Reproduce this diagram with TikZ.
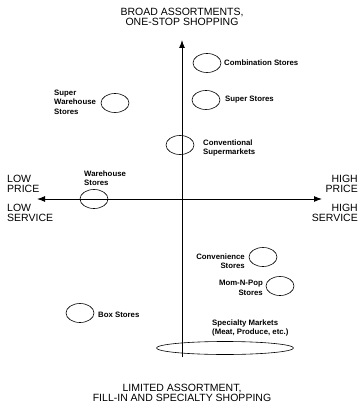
\documentclass[tikz,border=0pt]{standalone}
\usepackage{fontspec}
\setmainfont{Liberation Sans}
\usetikzlibrary{shapes.geometric, arrows.meta}

\begin{document}
\begin{tikzpicture}[x=1pt, y=-1pt, >={Latex[length=8pt,width=6pt]},
  store/.style={draw, ellipse, minimum width=28pt, minimum height=19pt, inner sep=0pt, line width=0.6pt},
  lbl/.style={font=\bfseries\fontsize{7.8}{9.5}\selectfont, inner sep=0pt},
  axlbl/.style={font=\fontsize{10.5}{10.5}\selectfont, inner sep=0pt}]
\useasboundingbox (0,0) rectangle (360,406);
% axes
\coordinate (top) at (182,40);
\coordinate (bot) at (182,357);
\coordinate (left) at (37,199);
\coordinate (right) at (322,199);
\draw[->, line width=1pt] (bot) -- (top);
\draw[<->, line width=1pt] (left) -- (right);
% axis texts
\node[axlbl, align=center] (broad) at (182,17) {BROAD ASSORTMENTS,\\ONE-STOP SHOPPING};
\node[axlbl, align=center] (limited) at (182,393) {LIMITED ASSORTMENT,\\FILL-IN AND SPECIALTY SHOPPING};
\node[axlbl, align=left, anchor=west] (lowprice) at (7,184) {LOW\\PRICE};
\node[axlbl, align=left, anchor=west] (lowserv) at (7,213) {LOW\\SERVICE};
\node[axlbl, align=right, anchor=east] (highprice) at (358,184) {HIGH\\PRICE};
\node[axlbl, align=right, anchor=east] (highserv) at (358,213) {HIGH\\SERVICE};
% stores
\node[store] (comb) at (207,63) {};
\node[lbl, anchor=west] (combtxt) at (224,63) {Combination Stores};
\node[store] (super) at (206,100) {};
\node[lbl, anchor=west] (supertxt) at (225,100) {Super Stores};
\node[store] (superwh) at (115,103) {};
\node[lbl, align=left, anchor=west] (superwhtxt) at (54,102) {Super\\Warehouse\\Stores};
\node[store] (conv) at (180,145) {};
\node[lbl, align=left, anchor=west] (convtxt) at (203,148) {Conventional\\Supermarkets};
\node[store] (wh) at (94,199) {};
\node[lbl, align=left, anchor=west] (whtxt) at (84,178) {Warehouse\\Stores};
\node[store] (conven) at (263,257) {};
\node[lbl, align=right, anchor=east] (conventxt) at (245,261) {Convenience\\Stores};
\node[store] (mom) at (280,286) {};
\node[lbl, align=right, anchor=east] (momtxt) at (263,288) {Mom-N-Pop\\Stores};
\node[store] (box) at (80,313) {};
\node[lbl, anchor=west] (boxtxt) at (98,315) {Box Stores};
\node[store, minimum width=137pt, minimum height=13pt] (spec) at (225,348) {};
\node[lbl, align=left, anchor=west] (spectxt) at (212,328) {Specialty Markets\\(Meat, Produce, etc.)};
\end{tikzpicture}
\end{document}
